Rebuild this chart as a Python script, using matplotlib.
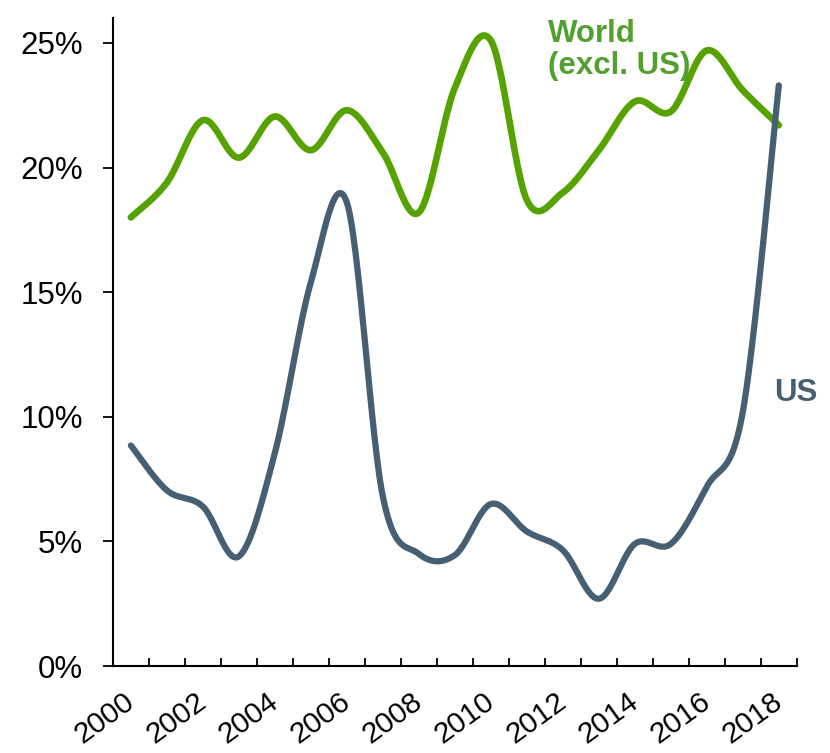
import numpy as np
import matplotlib.pyplot as plt
from matplotlib.ticker import FuncFormatter
from matplotlib.transforms import ScaledTranslation

years = list(range(2000, 2019))
world_excl_us = [18.0, 19.4, 21.9, 20.4, 22.05, 20.7, 22.3, 20.6, 18.2, 23.2,
                 25.1, 18.7, 19.0, 20.7, 22.65, 22.25, 24.7, 23.1, 21.7]
us = [8.85, 7.05, 6.4, 4.4, 8.55, 15.4, 18.6, 6.8, 4.5, 4.45,
      6.5, 5.4, 4.65, 2.7, 4.9, 4.9, 7.2, 10.2, 23.3]

GREEN = "#55a200"
GREEN_TEXT = "#52a030"
SLATE = "#475f72"

plt.rcParams["font.family"] = ["Liberation Sans", "DejaVu Sans"]


def smooth(xs, ys, n=30):
    # cubic bezier through the points, Excel-style smoothing
    x = np.asarray(xs, dtype=float)
    y = np.asarray(ys, dtype=float)
    px = np.concatenate([[x[0]], x, [x[-1]]])
    py = np.concatenate([[y[0]], y, [y[-1]]])
    t = np.linspace(0, 1, n)[:, None]
    out_x, out_y = [], []
    for i in range(1, len(px) - 2):
        p0x, p1x, p2x, p3x = px[i - 1], px[i], px[i + 1], px[i + 2]
        p0y, p1y, p2y, p3y = py[i - 1], py[i], py[i + 1], py[i + 2]
        c1x, c1y = p1x + (p2x - p0x) / 6, p1y + (p2y - p0y) / 6
        c2x, c2y = p2x - (p3x - p1x) / 6, p2y - (p3y - p1y) / 6
        bx = ((1 - t) ** 3 * p1x + 3 * (1 - t) ** 2 * t * c1x
              + 3 * (1 - t) * t ** 2 * c2x + t ** 3 * p2x)
        by = ((1 - t) ** 3 * p1y + 3 * (1 - t) ** 2 * t * c1y
              + 3 * (1 - t) * t ** 2 * c2y + t ** 3 * p2y)
        out_x.append(bx.ravel())
        out_y.append(by.ravel())
    return np.concatenate(out_x), np.concatenate(out_y)


fig = plt.figure(figsize=(8.3, 7.53), dpi=100)
ax = fig.add_axes([0.136, 0.1155, 0.824, 0.8605])

pos = np.arange(len(years))
sx, sy = smooth(pos, world_excl_us)
ax.plot(sx, sy, color=GREEN, lw=4.8, solid_capstyle="round")
sx, sy = smooth(pos, us)
ax.plot(sx, sy, color=SLATE, lw=4.5, solid_capstyle="round")

ax.set_xlim(-0.5, len(years) - 0.5)
ax.set_ylim(0, 26)

ax.set_yticks([0, 5, 10, 15, 20, 25])
ax.yaxis.set_major_formatter(FuncFormatter(lambda v, _: f"{v:.0f}%"))
ax.tick_params(axis="y", direction="out", length=7.5, width=1.3,
               labelsize=22.5, pad=14)

ax.set_xticks(pos[::2])
ax.set_xticklabels([str(y) for y in years[::2]], rotation=36,
                   ha="right", va="top", rotation_mode="anchor")
ax.set_xticks(np.arange(-0.5, len(years)), minor=True)
ax.tick_params(axis="x", which="major", length=0, labelsize=21.5, pad=15.5)
ax.tick_params(axis="x", which="minor", direction="in", length=6, width=1.3)
shift = ScaledTranslation(-0.08, 0, fig.dpi_scale_trans)
for lbl in ax.get_xticklabels():
    lbl.set_transform(lbl.get_transform() + shift)

for side in ["top", "right"]:
    ax.spines[side].set_visible(False)
for side in ["left", "bottom"]:
    ax.spines[side].set_linewidth(1.5)

ax.text(0.636, 0.998, "World\n(excl. US)", transform=ax.transAxes,
        color=GREEN_TEXT, fontsize=22.5, fontweight="bold", va="top",
        ha="left", linespacing=1.05)
ax.text(18.47, 10.96, "US", color=SLATE, fontsize=22.5, fontweight="bold",
        va="center", ha="center", clip_on=False)

fig.savefig("out.png", dpi=100)
